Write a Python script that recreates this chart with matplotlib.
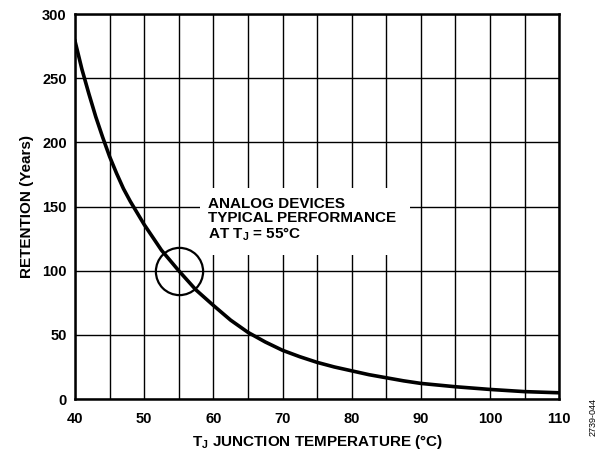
import numpy as np
import matplotlib
matplotlib.use("Agg")
import matplotlib.pyplot as plt
from matplotlib.patches import Rectangle

plt.rcParams['font.family'] = ['Liberation Sans', 'DejaVu Sans']
plt.rcParams['font.weight'] = 'bold'
plt.rcParams['mathtext.fontset'] = 'custom'
plt.rcParams['mathtext.rm'] = 'Liberation Sans:bold'
plt.rcParams['mathtext.bf'] = 'Liberation Sans:bold'

# valori
temp = [40, 41, 42, 43, 44, 45, 46, 47, 48, 49, 50, 52.5, 55, 57.5, 60, 62.5, 65, 67.5, 70,
        72.5, 75, 77.5, 80, 82.5, 85, 87.5, 90, 95, 100, 105, 110]
retentie = [279, 257, 238, 220, 204, 189, 176, 164, 154, 145, 136, 116, 100, 85, 73, 61.5, 52, 44.5, 38,
            33, 28.6, 25, 22, 19, 16.6, 14.2, 12.2, 9.6, 7.5, 5.8, 4.9]

x_ticks = [40, 50, 60, 70, 80, 90, 100, 110]
y_ticks = [0, 50, 100, 150, 200, 250, 300]

fig = plt.figure(figsize=(6, 4.54), dpi=100)
ax = fig.add_axes([0.125, 0.121, 0.807, 0.848])

ax.plot(temp, retentie, color='black', lw=2.6, zorder=3, solid_joinstyle='round')

ax.set_xlim(40, 110)
ax.set_ylim(0, 300)
ax.set_xticks(x_ticks)
ax.set_xticks(np.arange(45, 110, 10), minor=True)
ax.set_yticks(y_ticks)
ax.set_xticklabels([str(v) for v in x_ticks], fontsize=10.5, fontweight='bold')
ax.set_yticklabels([str(v) for v in y_ticks], fontsize=10.5, fontweight='bold')
ax.tick_params(which='both', length=0)
ax.tick_params(axis='x', pad=9)
ax.tick_params(axis='y', pad=6)
ax.grid(True, which='both', color='black', lw=1.0)
ax.set_axisbelow(True)
for s in ax.spines.values():
    s.set_linewidth(1.8)

# cercul din jurul punctului 55 C
ax.plot([55], [100], marker='o', ms=34, mfc='none', mec='black', mew=1.6, zorder=4)

# fundal alb pentru text
ax.add_patch(Rectangle((58.1, 112.2), 30.35, 52.2, fc='white', ec='none', zorder=2))
ax.text(59.24, 139.5, "ANALOG DEVICES\nTYPICAL PERFORMANCE\nAT $\\mathbf{T_J}$ = 55°C",
        fontsize=11, fontweight='bold', va='center', ha='left', linespacing=1.0, zorder=5)

ax.set_xlabel("$\\mathbf{T_J}$ JUNCTION TEMPERATURE (°C)", fontsize=11, fontweight='bold', labelpad=5)
ax.set_ylabel("RETENTION (Years)", fontsize=11, fontweight='bold', labelpad=6)

fig.text(0.988, 0.04, "2739-044", rotation=90, fontsize=6.5, fontweight='normal',
         ha='center', va='bottom')

fig.savefig("out.png", dpi=100)
